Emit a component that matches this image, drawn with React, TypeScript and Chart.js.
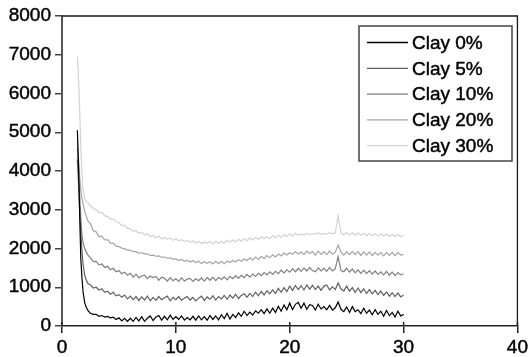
import { useEffect, useRef } from "react";
import { Chart, registerables } from "chart.js";

Chart.register(...registerables);

const X = [
  1.35, 1.45, 1.55, 1.65, 1.75, 1.85, 2.0, 2.15, 2.3, 2.5, 2.75,
  3, 3.25, 3.5, 3.75, 4, 4.25, 4.5, 4.75, 5, 5.25, 5.5, 5.75,
  6, 6.25, 6.5, 6.75, 7, 7.25, 7.5, 7.75, 8, 8.25, 8.5, 8.75,
  9, 9.25, 9.5, 9.75, 10, 10.25, 10.5, 10.75, 11, 11.25, 11.5, 11.75,
  12, 12.25, 12.5, 12.75, 13, 13.25, 13.5, 13.75, 14, 14.25, 14.5, 14.75,
  15, 15.25, 15.5, 15.75, 16, 16.25, 16.5, 16.75, 17, 17.25, 17.5, 17.75,
  18, 18.25, 18.5, 18.75, 19, 19.25, 19.5, 19.75, 20, 20.25, 20.5, 20.75,
  21, 21.25, 21.5, 21.75, 22, 22.25, 22.5, 22.75, 23, 23.25, 23.5, 23.75,
  24, 24.25, 24.5, 24.75, 25, 25.25, 25.5, 25.75, 26, 26.25, 26.5, 26.75,
  27, 27.25, 27.5, 27.75, 28, 28.25, 28.5, 28.75, 29, 29.25, 29.5, 29.75,
  30,
];

const clay0 = [
  5050, 4150, 2900, 1750, 1250, 880, 590, 470, 390, 330, 300,
  300, 250, 270, 230, 250, 210, 230, 170, 210, 130, 200, 120,
  200, 120, 220, 130, 240, 120, 200, 260, 140, 230, 270, 150,
  250, 160, 280, 170, 240, 170, 260, 150, 220, 160, 250, 150,
  260, 160, 240, 150, 270, 170, 260, 160, 290, 190, 330, 180,
  300, 220, 340, 250, 380, 270, 360, 280, 390, 330, 420, 320,
  440, 330, 460, 350, 510, 380, 540, 420, 590, 420, 560, 610,
  460, 590, 430, 550, 530, 410, 560, 440, 500, 420, 530, 410,
  470, 620, 430, 370, 490, 350, 500, 370, 420, 320, 460, 330,
  410, 290, 420, 300, 380, 250, 400, 270, 350, 230, 380, 260,
  300,
];

const clay5 = [
  4300, 3700, 3000, 2400, 1950, 1600, 1300, 1170, 1090, 1060, 980,
  1000, 930, 960, 870, 900, 820, 870, 780, 810, 740, 800, 700,
  770, 680, 760, 660, 750, 670, 770, 650, 740, 660, 760, 680,
  730, 770, 650, 740, 680, 760, 660, 720, 760, 670, 740, 650,
  720, 770, 660, 750, 690, 780, 670, 760, 700, 790, 690, 800,
  720, 820, 710, 790, 830, 740, 840, 760, 870, 780, 890, 800,
  910, 830, 930, 840, 970, 870, 990, 890, 1030, 920, 1040, 940,
  1040, 930, 1060, 950, 1050, 940, 1030, 920, 1030, 1060, 930, 1010,
  940, 1110, 960, 900, 1030, 900, 990, 870, 980, 860, 960, 840,
  940, 830, 920, 810, 900, 790, 880, 770, 860, 760, 850, 750,
  800,
];

const clay10 = [
  4600, 4000, 3400, 2800, 2350, 2150, 1990, 1900, 1820, 1760, 1660,
  1670, 1580, 1600, 1510, 1540, 1450, 1490, 1400, 1430, 1350, 1390, 1310,
  1360, 1260, 1340, 1240, 1290, 1310, 1220, 1290, 1250, 1280, 1180, 1260,
  1230, 1160, 1250, 1170, 1220, 1150, 1240, 1160, 1210, 1230, 1150, 1220,
  1170, 1240, 1160, 1250, 1180, 1260, 1170, 1250, 1200, 1270, 1190, 1280,
  1220, 1300, 1230, 1310, 1250, 1330, 1260, 1340, 1280, 1360, 1300, 1380,
  1320, 1400, 1330, 1410, 1350, 1440, 1370, 1450, 1390, 1480, 1400, 1490,
  1410, 1500, 1420, 1510, 1430, 1400, 1500, 1420, 1490, 1410, 1510, 1420,
  1480, 1790, 1430, 1400, 1490, 1390, 1470, 1370, 1450, 1360, 1440, 1350,
  1430, 1340, 1420, 1330, 1400, 1320, 1410, 1310, 1390, 1300, 1380, 1320,
  1350,
];

const clay20 = [
  4800, 4300, 3850, 3500, 3300, 3150, 2950, 2820, 2700, 2640, 2460,
  2430, 2310, 2320, 2220, 2230, 2140, 2140, 2060, 2050, 2010, 1990, 1960,
  1960, 1920, 1920, 1880, 1890, 1860, 1860, 1820, 1830, 1800, 1810, 1770,
  1780, 1750, 1760, 1720, 1740, 1690, 1720, 1670, 1700, 1650, 1690, 1640,
  1670, 1610, 1660, 1620, 1660, 1600, 1670, 1610, 1670, 1610, 1680, 1640,
  1690, 1650, 1710, 1670, 1730, 1690, 1760, 1700, 1780, 1720, 1800, 1740,
  1820, 1760, 1840, 1780, 1860, 1810, 1890, 1830, 1890, 1850, 1920, 1860,
  1910, 1840, 1930, 1870, 1920, 1830, 1930, 1850, 1920, 1840, 1930, 1850,
  1900, 2090, 1920, 1830, 1920, 1840, 1920, 1840, 1920, 1820, 1910, 1830,
  1910, 1820, 1900, 1830, 1900, 1810, 1900, 1820, 1900, 1810, 1900, 1830,
  1850,
];

const clay30 = [
  6950, 6400, 5600, 4600, 3950, 3500, 3280, 3220, 3170, 3110, 3030,
  3000, 2920, 2930, 2840, 2830, 2760, 2760, 2690, 2670, 2590, 2600, 2520,
  2510, 2450, 2460, 2390, 2420, 2350, 2380, 2310, 2340, 2270, 2320, 2250,
  2280, 2240, 2270, 2210, 2250, 2200, 2230, 2180, 2210, 2160, 2200, 2140,
  2180, 2130, 2170, 2140, 2180, 2120, 2190, 2130, 2190, 2140, 2210, 2160,
  2220, 2170, 2240, 2190, 2250, 2200, 2270, 2220, 2280, 2230, 2300, 2250,
  2310, 2260, 2330, 2280, 2340, 2290, 2360, 2310, 2380, 2320, 2400, 2340,
  2370, 2350, 2390, 2360, 2380, 2370, 2410, 2360, 2390, 2370, 2410, 2380,
  2400, 2840, 2410, 2350, 2410, 2350, 2400, 2340, 2400, 2340, 2390, 2330,
  2390, 2330, 2380, 2320, 2380, 2320, 2370, 2310, 2370, 2310, 2360, 2300,
  2340,
];

const SERIES_LABELS = ["Clay 0%", "Clay 5%", "Clay 10%", "Clay 20%", "Clay 30%"];
const SERIES_VALUES = [clay0, clay5, clay10, clay20, clay30];
const SERIES_COLORS = ["#000000", "#606060", "#808080", "#a4a4a4", "#d2d2d2"];

const FONT = "'Liberation Sans', Arial, Helvetica, sans-serif";

const framePlugin = {
  id: "frameAndLegend",
  afterDraw(chart: any) {
    const { ctx, chartArea: a, scales } = chart;
    ctx.save();
    ctx.strokeStyle = "#1a1a1a";
    ctx.lineWidth = 1.3;
    ctx.beginPath();
    ctx.moveTo(a.left, a.top);
    ctx.lineTo(a.right, a.top);
    ctx.lineTo(a.right, a.bottom);
    ctx.stroke();
    ctx.strokeStyle = "#222";
    ctx.lineWidth = 1.5;
    for (const t of scales.x.ticks) {
      const px = scales.x.getPixelForValue(t.value);
      ctx.beginPath();
      ctx.moveTo(px, a.bottom - 4);
      ctx.lineTo(px, a.bottom);
      ctx.stroke();
    }
    const bx = 359, by = 26, bw = 153, bh = 135;
    ctx.fillStyle = "#ffffff";
    ctx.fillRect(bx, by, bw, bh);
    ctx.strokeStyle = "#444";
    ctx.lineWidth = 1.5;
    ctx.strokeRect(bx, by, bw, bh);
    ctx.font = `19px ${FONT}`;
    ctx.textBaseline = "middle";
    ctx.textAlign = "left";
    chart.data.datasets.forEach((ds: any, i: number) => {
      const y = 42.5 + i * 25.8;
      ctx.strokeStyle = ds.borderColor;
      ctx.lineWidth = 1.3;
      ctx.beginPath();
      ctx.moveTo(367, y);
      ctx.lineTo(408, y);
      ctx.stroke();
      ctx.fillStyle = "#000";
      ctx.fillText(ds.label, 412, y + 1);
      ctx.strokeStyle = "#000";
      ctx.lineWidth = 0.45;
      ctx.strokeText(ds.label, 412, y + 1);
    });
    ctx.restore();
  },
};

export default function App() {
  const ref = useRef<HTMLCanvasElement | null>(null);

  useEffect(() => {
    if (!ref.current) return;
    const chart = new Chart(ref.current, {
      type: "line",
      data: {
        datasets: SERIES_VALUES.map((vals, i) => ({
          label: SERIES_LABELS[i],
          data: vals.map((v, j) => ({ x: X[j], y: v })),
          borderColor: SERIES_COLORS[i],
          backgroundColor: SERIES_COLORS[i],
          borderWidth: 1.2,
          pointRadius: 0,
          tension: 0,
          fill: false,
        })),
      },
      options: {
        responsive: false,
        animation: false,
        maintainAspectRatio: false,
        layout: { padding: { top: 16, right: 10, left: 0, bottom: 0 } },
        plugins: { legend: { display: false }, tooltip: { enabled: false } },
        scales: {
          x: {
            type: "linear",
            min: 0,
            max: 40,
            afterFit: (s: any) => { s.height = 31; },
            ticks: {
              stepSize: 10,
              padding: 3,
              color: "#000",
              textStrokeColor: "#000",
              textStrokeWidth: 0.45,
              font: { family: FONT, size: 19 },
              callback: (v: any) => String(v),
            },
            grid: {
              display: true,
              drawOnChartArea: false,
              drawTicks: true,
              tickLength: 7,
              color: "#222",
              lineWidth: 1.5,
            },
            border: { display: true, color: "#222", width: 1.5 },
          },
          y: {
            type: "linear",
            min: 0,
            max: 8000,
            afterFit: (s: any) => { s.width = 62; },
            ticks: {
              stepSize: 1000,
              padding: 4,
              color: "#000",
              textStrokeColor: "#000",
              textStrokeWidth: 0.45,
              font: { family: FONT, size: 19 },
              callback: (v: any) => String(v),
            },
            grid: {
              display: true,
              drawOnChartArea: false,
              drawTicks: true,
              tickLength: 7,
              color: "#444",
              lineWidth: 1.5,
            },
            border: { display: true, color: "#555", width: 2 },
          },
        },
      },
      plugins: [framePlugin],
    });
    return () => chart.destroy();
  }, []);

  return (
    <div style={{ position: "absolute", left: 0, top: 0, width: 531, height: 357 }}>
      <canvas ref={ref} width={531} height={357} style={{ display: "block" }} />
    </div>
  );
}
